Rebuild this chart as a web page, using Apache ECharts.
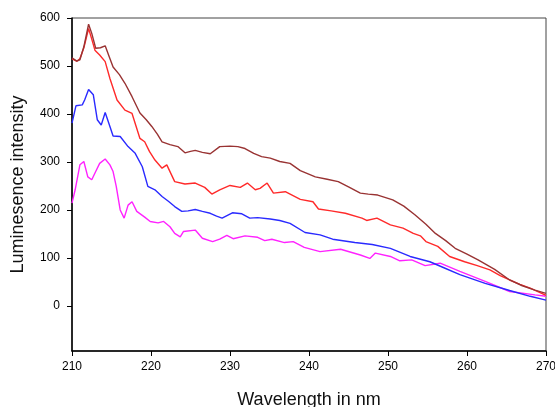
<!DOCTYPE html>
<html>
<head>
<meta charset="utf-8">
<script src="https://cdn.jsdelivr.net/npm/echarts@6/dist/echarts.min.js"></script>
<style>html,body{margin:0;padding:0;background:#fff}#c{width:555px;height:407px}</style>
</head>
<body>
<div id="c"></div>
<script>
var seriesNames = ['S1', 'S2', 'S3', 'S4'];
var xTicks = [210, 220, 230, 240, 250, 260, 270];
var yTicks = [0, 100, 200, 300, 400, 500, 600];

var darkRedX = [210, 210.6, 211.0, 211.5, 212.1, 212.5, 213.0, 213.6, 214.2, 214.7, 215.2, 216.0, 216.7, 217.6, 218.6, 219.4, 220.1, 220.8, 221.4, 222.4, 223.4, 224.3, 225.0, 225.6, 226.5, 227.5, 228.7, 230.0, 231.0, 231.9, 233.0, 234.0, 235.1, 236.3, 237.6, 238.9, 240.8, 242.3, 243.7, 245.0, 246.5, 247.5, 248.7, 250.6, 252.0, 253.4, 254.8, 256.0, 257.3, 258.5, 260.0, 261.4, 263.5, 265.4, 267.0, 268.6, 270];
var darkRedY = [517, 510, 513, 540, 587, 568, 537, 538, 542, 520, 498, 482, 464, 436, 402, 388, 374, 358, 342, 336, 332, 319, 322, 324, 320, 317, 332, 333, 332, 328, 318, 311, 308, 301, 297, 282, 269, 264, 259, 248, 235, 233, 231, 221, 208, 190, 170, 151, 136, 120, 108, 96, 76, 54, 42, 33, 26];

var redX = [210, 210.6, 211.0, 211.5, 212.1, 212.5, 212.9, 213.5, 214.2, 214.8, 215.7, 216.7, 217.6, 218.6, 219.2, 219.8, 220.5, 221.4, 222.0, 223.0, 224.3, 225.6, 226.8, 227.7, 228.7, 230.0, 231.3, 232.2, 233.2, 233.8, 234.7, 235.5, 237.0, 238.9, 240.5, 241.2, 242.8, 244.6, 246.7, 247.3, 248.6, 250.3, 251.9, 253.2, 254.1, 254.8, 256.3, 257.8, 259.7, 261.3, 262.9, 264.2, 265.4, 266.7, 268.0, 270];
var redY = [515, 510, 515, 538, 578, 556, 533, 523, 509, 474, 429, 408, 401, 349, 342, 322, 304, 287, 294, 259, 254, 256, 247, 233, 242, 251, 247, 256, 242, 245, 256, 235, 238, 222, 217, 202, 198, 193, 183, 178, 183, 169, 162, 151, 146, 134, 124, 103, 92, 84, 75, 63, 54, 45, 37, 22];

var blueX = [210, 210.5, 211.3, 211.6, 212.1, 212.7, 213.2, 213.7, 214.2, 214.8, 215.2, 216.1, 217.1, 218.0, 218.9, 219.6, 220.5, 221.4, 222.2, 223.0, 223.9, 224.7, 225.6, 226.5, 227.5, 228.3, 229.0, 230.3, 231.5, 232.5, 233.5, 235.1, 236.3, 237.6, 239.5, 241.4, 243.0, 245.8, 248.0, 250.3, 252.8, 255.3, 257.0, 259.1, 262.3, 265.4, 268.0, 270];
var blueY = [381, 417, 419, 429, 451, 440, 388, 377, 403, 374, 354, 353, 332, 318, 290, 249, 242, 228, 218, 207, 197, 198, 201, 197, 193, 187, 183, 194, 192, 183, 184, 181, 178, 172, 153, 148, 139, 132, 128, 120, 103, 92, 80, 65, 47, 32, 20, 12];

var magentaX = [210, 210.4, 211.0, 211.5, 212.0, 212.5, 213.0, 213.5, 214.2, 214.8, 215.2, 215.6, 216.1, 216.6, 217.1, 217.6, 218.2, 219.2, 219.9, 220.9, 221.6, 222.4, 223.0, 223.7, 224.1, 225.6, 226.5, 227.8, 228.7, 229.6, 230.4, 231.9, 233.5, 234.4, 235.3, 236.9, 238.0, 239.4, 241.4, 244.0, 246.5, 247.7, 248.4, 250.3, 251.5, 253.0, 254.7, 256.6, 259.1, 262.3, 265.4, 268.6, 270];
var magentaY = [214, 242, 294, 301, 269, 263, 280, 297, 306, 294, 280, 249, 200, 183, 210, 217, 197, 185, 176, 173, 176, 165, 151, 144, 155, 158, 141, 134, 139, 147, 140, 146, 143, 136, 139, 132, 134, 122, 113, 118, 106, 99, 110, 103, 94, 96, 84, 89, 72, 51, 30, 23, 20];

function pairs(xs, ys) { return xs.map(function (x, i) { return [x, ys[i]]; }); }

var colors = ['#993333', '#ff2a2a', '#2a2aff', '#ff22ff'];
var dataSets = [pairs(darkRedX, darkRedY), pairs(redX, redY), pairs(blueX, blueY), pairs(magentaX, magentaY)];

var chart = echarts.init(document.getElementById('c'), null, { renderer: 'canvas' });
chart.setOption({
  animation: false,
  backgroundColor: '#ffffff',
  grid: { left: 72, right: 9, top: 18, bottom: 56, containLabel: false, outerBoundsMode: 'none', show: true, borderColor: '#444', borderWidth: 1, backgroundColor: 'transparent' },
  xAxis: {
    type: 'value', min: 210, max: 270, interval: 10,
    name: 'Wavelength in nm', nameLocation: 'middle', nameGap: 40,
    nameTextStyle: { fontFamily: 'Liberation Sans', fontSize: 18, color: '#111' },
    axisLine: { show: true, onZero: false, lineStyle: { color: '#000', width: 1.5 } },
    axisTick: { show: true, inside: false, length: 5, lineStyle: { color: '#000' }, customValues: xTicks },
    axisLabel: { fontFamily: 'Liberation Sans', fontSize: 12, color: '#000', margin: 10, customValues: xTicks },
    splitLine: { show: false }
  },
  yAxis: {
    type: 'value', min: -94, max: 600,
    name: 'Luminesence intensity', nameLocation: 'middle', nameGap: 45, nameRotate: 90,
    nameTextStyle: { fontFamily: 'Liberation Sans', fontSize: 18, color: '#111' },
    axisLine: { show: true, onZero: false, lineStyle: { color: '#000', width: 1.5 } },
    axisTick: { show: true, inside: false, length: 5, lineStyle: { color: '#000' }, customValues: yTicks },
    axisLabel: { fontFamily: 'Liberation Sans', fontSize: 12, color: '#000', margin: 12, customValues: yTicks },
    splitLine: { show: false }
  },
  series: dataSets.map(function (d, i) {
    return {
      name: seriesNames[i], type: 'line', data: d, showSymbol: false, symbol: 'none',
      lineStyle: { color: colors[i], width: 1.4 }, z: 4 - i
    };
  })
});
</script>
</body>
</html>
